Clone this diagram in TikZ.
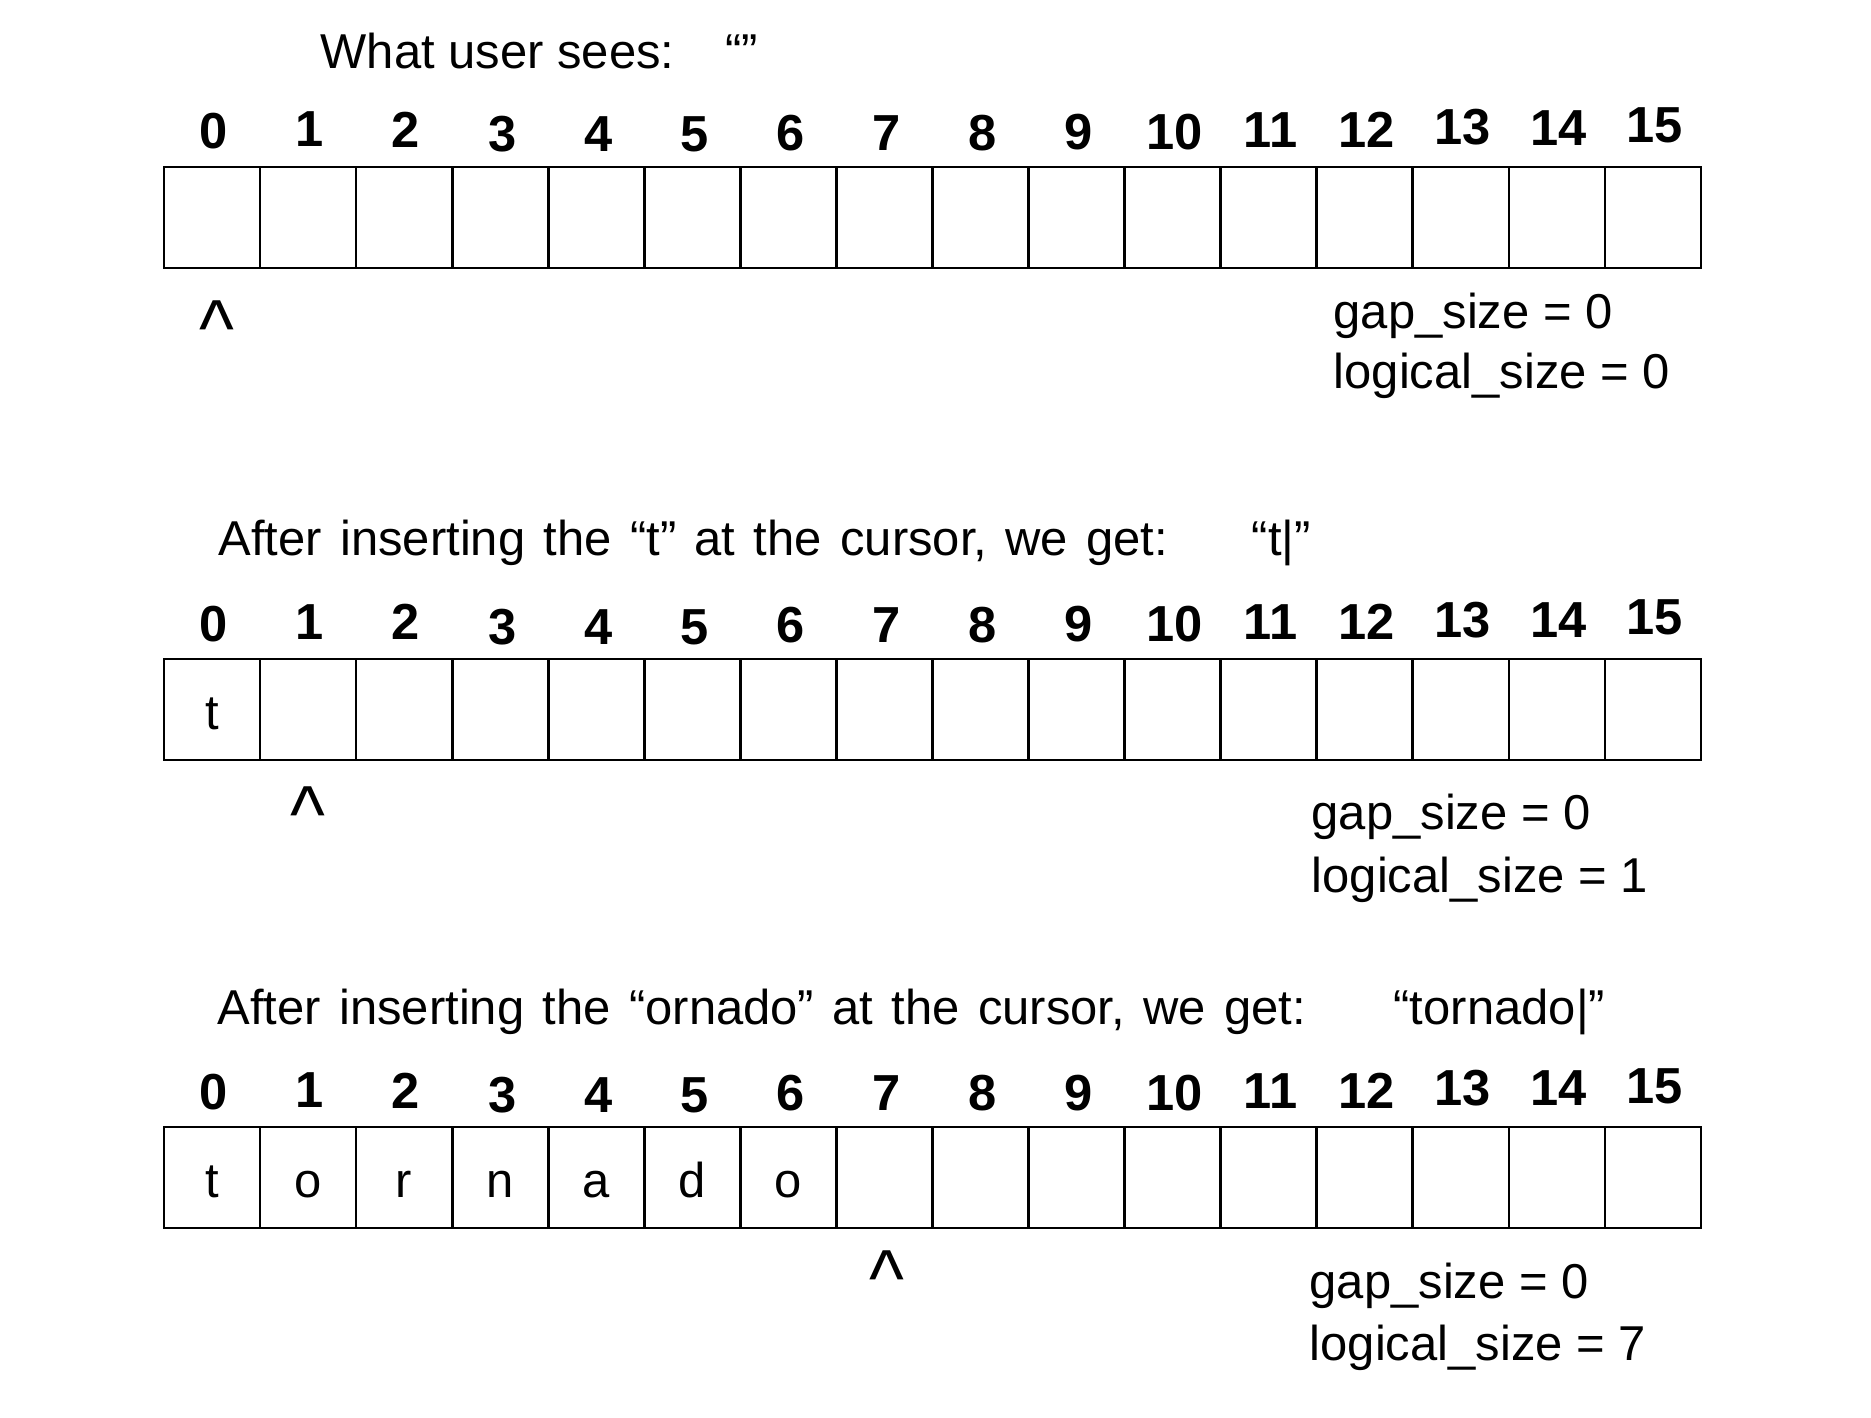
\documentclass[tikz,border=0pt]{standalone}
\usepackage{fontspec}
\setmainfont{Liberation Sans}
\newfontfamily\titlefont[WordSpace=1.35]{Liberation Sans}
\newcommand\txtsize{\fontsize{14.5pt}{17pt}\selectfont}
\newcommand\idxsize{\fontsize{15pt}{18pt}\selectfont\bfseries}
\newcommand\cursize{\fontsize{20pt}{24pt}\selectfont}
\newcommand\caret{\scalebox{1.1}[1.2]{\textasciicircum}}
\tikzset{
	cell/.style={draw,line width=0.8pt,minimum width=1cm,minimum height=1.051cm,inner sep=0,outer sep=0},
	letter/.style={inner sep=0,text height=0.409cm,text depth=0pt,font=\txtsize},
	idx/.style={anchor=base,inner sep=0,font=\idxsize},
	label/.style={anchor=base west,inner sep=0,font=\txtsize},
	title/.style={label,font=\titlefont\txtsize},
	cursor/.style={anchor=north,inner sep=0,font=\cursize}
}
\begin{document}
\begin{tikzpicture}
	\useasboundingbox (-1.707,0) rectangle (17.770,-14.751);
	\foreach \r/\top in {1/-1.738,2/-6.860,3/-11.732}{
		\foreach \i/\dy in {0/0.187,1/0.208,2/0.198,3/0.156,4/0.156,5/0.156,6/0.167,7/0.167,8/0.167,9/0.177,10/0.177,11/0.198,12/0.198,13/0.229,14/0.219,15/0.250}{
			\node[cell] (c\r-\i) at (\i+0.5,\top-0.5255) {};
			\node[idx] (n\r-\i) at (\i+0.52,\top+\dy) {\i};
		}
	}
	\node[letter] (t2-0) at (c2-0) {t};
	\foreach \i/\ch in {0/t,1/o,2/r,3/n,4/a,5/d,6/o}{
		\node[letter] (t3-\i) at (c3-\i) {\ch};
	}
	\node[label] (title1) at (1.624,-0.708) {What user sees:};
	\node[label] (seen1) at (5.840,-0.708) {“”};
	\node[title] (title2) at (0.562,-5.778) {After inserting the “t” at the cursor, we get:};
	\node[label] (seen2) at (11.316,-5.778) {“t|”};
	\node[title] (title3) at (0.552,-10.660) {After inserting the “ornado” at the cursor, we get:};
	\node[label] (seen3) at (12.794,-10.660) {“tornado|”};
	\node[cursor] (cur1) at ([xshift=0.05cm,yshift=-0.33cm]c1-0.south) {\caret};
	\node[cursor] (cur2) at ([yshift=-0.27cm]c2-1.south) {\caret};
	\node[cursor] (cur3) at ([xshift=0.03cm,yshift=-0.23cm]c3-7.south) {\caret};
	\node[label] (gap1) at (12.170,-3.415) {gap\_size = 0};
	\node[label] (log1) at (12.170,-4.039) {logical\_size = 0};
	\node[label] (gap2) at (11.941,-8.640) {gap\_size = 0};
	\node[label] (log2) at (11.941,-9.286) {logical\_size = 1};
	\node[label] (gap3) at (11.920,-13.512) {gap\_size = 0};
	\node[label] (log3) at (11.920,-14.158) {logical\_size = 7};
\end{tikzpicture}
\end{document}
